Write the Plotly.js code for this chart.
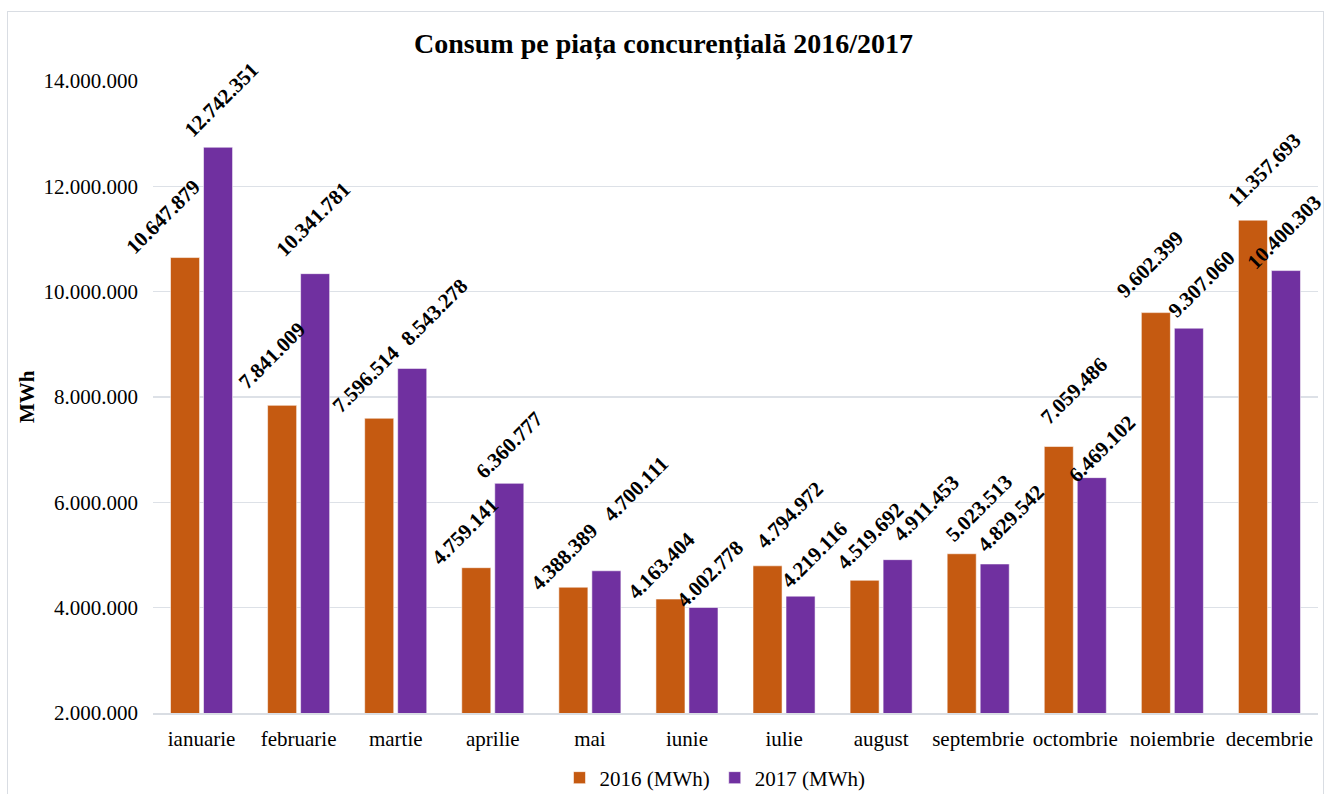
<!DOCTYPE html>
<html>
<head>
<meta charset="utf-8">
<script src="https://cdn.plot.ly/plotly-3.0.1.min.js"></script>
<style>
html, body { margin: 0; padding: 0; background: #ffffff; }
#wrap { position: relative; width: 1327px; height: 794px; }
#frame { position: absolute; left: 7px; top: 11px; width: 1317px; height: 790px; border: 1.5px solid #d9dde3; box-sizing: border-box; pointer-events: none; }
#chart { position: absolute; left: 0; top: 0; width: 1327px; height: 794px; }
</style>
</head>
<body>
<div id="wrap">
<div id="chart"></div>
<div id="frame"></div>
</div>
<script>
const months = ['ianuarie','februarie','martie','aprilie','mai','iunie','iulie','august','septembrie','octombrie','noiembrie','decembrie'];
const values2016 = [10647879, 7841009, 7596514, 4759141, 4388389, 4163404, 4794972, 4519692, 5023513, 7059486, 9602399, 11357693];
const values2017 = [12742351, 10341781, 8543278, 6360777, 4700111, 4002778, 4219116, 4911453, 4829542, 6469102, 9307060, 10400303];
const seriesNames = ['2016 (MWh)', '2017 (MWh)'];
const yTicks = [2000000, 4000000, 6000000, 8000000, 10000000, 12000000, 14000000];

// label nudges (px) mimicking the reference's overlap-avoiding placement of the rotated value labels
const labelDx2016 = [-22, -10.5, -13, -11, -9.5, -8.5, 22.5, 5.5, 17.5, 15, -5.5, 11.5];
const labelGap2016 = [3, 16, 5, 3, -3, 0, 17, 11, 12, 22, 15, 13];
const labelDx2017 = [3, -1.5, 22, 0, 29.5, 6.5, 13.5, 29, 16.5, 10, 12.5, -1.5];
const labelGap2017 = [10, 17, 23, 5, 49, 0, 8, 18, 12, -5, 11, 1];

const FONT = "'Liberation Serif', 'Times New Roman', Times, serif";
const BARGAP = 0.32, GROUPGAP = 0.12;
const LABEL_BASE_SHIFT = -6;

function barTrace(name, ys, color) {
  return {
    type: 'bar', name: name, x: months, y: ys,
    marker: {color: color, line: {color: 'rgba(255,255,255,0.55)', width: 1}},
    hoverinfo: 'x+y'
  };
}

const data = [
  barTrace(seriesNames[0], values2016, '#C55A11'),
  barTrace(seriesNames[1], values2017, '#7030A0')
];

function fmt(v) {
  return String(Math.round(v)).replace(/\B(?=(\d{3})+(?!\d))/g, '.');
}

const annotations = [];
const half = (1 - BARGAP) / 4;
[[values2016, labelDx2016, labelGap2016, -half], [values2017, labelDx2017, labelGap2017, half]].forEach(([vals, dxs, gaps, off]) => {
  vals.forEach((v, i) => {
    annotations.push({
      x: i + off, y: v, xref: 'x', yref: 'y',
      text: '<b>' + fmt(v) + '</b>', textangle: -45, showarrow: false,
      xanchor: 'center', yanchor: 'bottom', xshift: dxs[i], yshift: gaps[i] + LABEL_BASE_SHIFT,
      borderpad: 0,
      font: {family: FONT, size: 21, color: '#000000'}
    });
  });
});
annotations.push({text: '<b>MWh</b>', xref: 'paper', yref: 'paper', x: (27 - 153) / 1165, y: 0.5, xanchor: 'center', yanchor: 'middle', textangle: -90, showarrow: false, font: {family: FONT, size: 21, color: '#000000'}});

const layout = {
  width: 1327, height: 794,
  separators: ',.',
  paper_bgcolor: 'rgba(0,0,0,0)', plot_bgcolor: '#ffffff',
  font: {family: FONT, size: 21, color: '#000000'},
  margin: {l: 153, r: 9, t: 81, b: 81, autoexpand: false},
  title: {text: '<b>Consum pe piața concurențială 2016/2017</b>', x: 0.5, xref: 'container', xanchor: 'center', y: 0.946, yref: 'container', yanchor: 'middle', font: {family: FONT, size: 28, color: '#000000'}},
  barmode: 'group', bargap: BARGAP, bargroupgap: GROUPGAP,
  xaxis: {type: 'category', range: [-0.5, months.length - 0.5], autorange: false, tickfont: {family: FONT, size: 21, color: '#000000'}, ticks: '', ticklabelstandoff: 6, showgrid: false, showline: true, linecolor: '#d9dde3', linewidth: 1.5, automargin: false, fixedrange: true},
  yaxis: {range: [2000000, 14000000], autorange: false, tickvals: yTicks, tickformat: ',.0f', tickfont: {family: FONT, size: 21, color: '#000000'}, ticks: '', ticklabelstandoff: 14, showgrid: true, gridcolor: '#dde1e7', gridwidth: 1.5, zeroline: false, showline: false, automargin: false, fixedrange: true},
  showlegend: true,
  legend: {orientation: 'h', x: (715 - 153) / 1165, xanchor: 'center', yref: 'container', y: (794 - 778) / 794, yanchor: 'middle', font: {family: FONT, size: 21, color: '#000000'}, itemwidth: 30, tracegroupgap: 0},
  annotations: annotations
};

Plotly.newPlot('chart', data, layout, {displayModeBar: false, staticPlot: true});
</script>
</body>
</html>
